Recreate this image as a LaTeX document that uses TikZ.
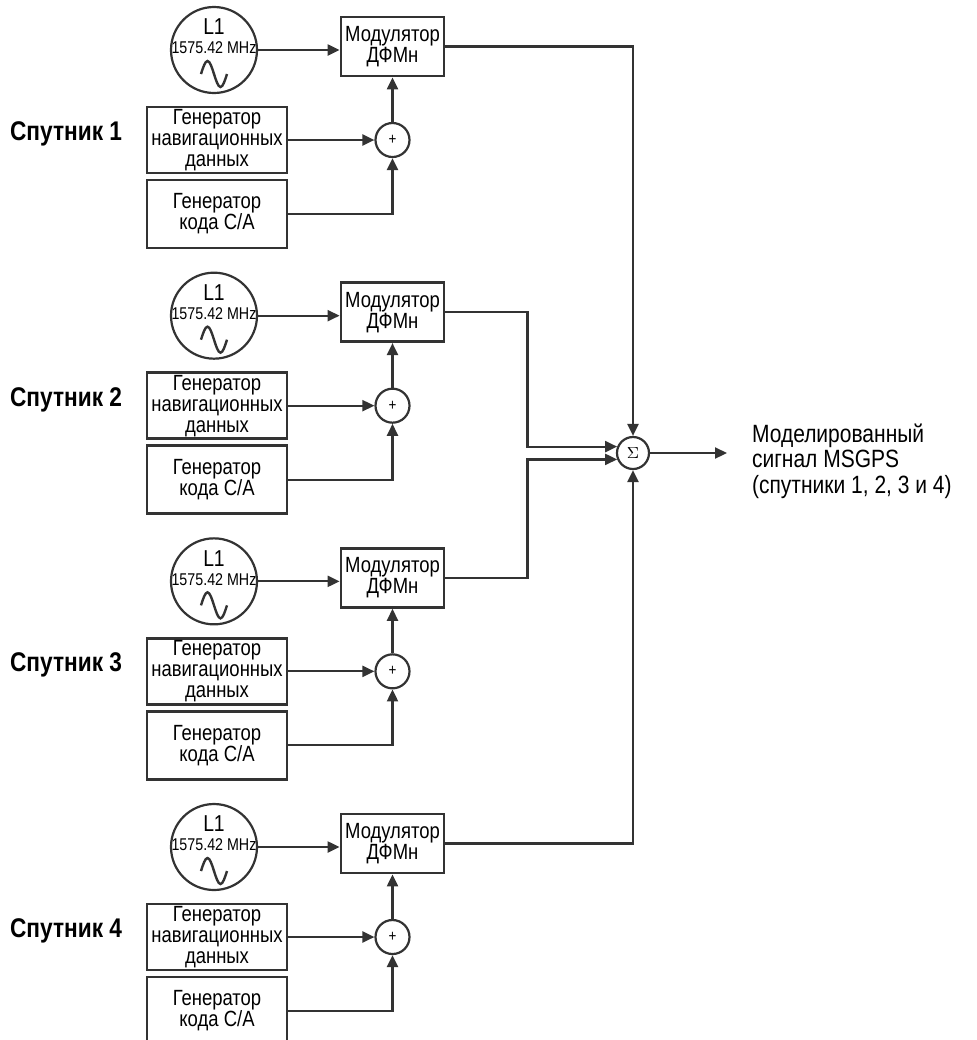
\documentclass[tikz,border=0pt]{standalone}
\usepackage{fontspec}
\setmainfont{Liberation Sans}[FakeStretch=0.84]
\usepackage{tikz}
\usetikzlibrary{arrows.meta,calc}
\usepackage{xcolor}
\definecolor{linegray}{gray}{0.2}

\tikzset{
  blk/.style={draw=linegray, line width=1.4pt, inner sep=0pt, align=center, font=\fontsize{11}{10.5}\selectfont},
  gen/.style={blk, minimum width=70pt},
  osc/.style={circle, draw=linegray, line width=1.1pt, minimum size=43pt, inner sep=0pt},
  summ/.style={circle, draw=linegray, line width=1.1pt, inner sep=0pt, font=\fontsize{8}{8}\selectfont},
  sig/.style={->, draw=linegray, line width=1.1pt},
}

\begin{document}
\begin{tikzpicture}[x=0.5pt, y=-0.5pt, >={Triangle[length=6pt,width=5.5pt]}]
  \clip (0,0) rectangle (977,1040);
  \foreach \i in {1,...,4} {
    \pgfmathsetmacro{\dy}{(\i-1)*265.67}
    % Генератор несущей L1
    \node[osc] (osc\i) at (214,50+\dy) {};
    \node[font=\fontsize{11.5}{11.5}\selectfont] (lone\i) at ($(osc\i)+(0,-23)$) {L1};
    \node[font=\fontsize{8.5}{8.5}\selectfont] (freq\i) at ($(osc\i)+(0,-2)$) {1575.42 MHz};
    \draw[linegray, line width=1.2pt] ($(osc\i)+(-13,24)$) sin ++(6.5,-13) cos ++(6.5,13) sin ++(6.5,13) cos ++(6.5,-13);
    % Модулятор
    \node[blk, minimum width=51.5pt, minimum height=29.5pt] (mod\i) at (392.5,46.5+\dy) {Модулятор\\ДФМн};
    % Генераторы данных и кода
    \node[gen, minimum height=33pt] (nav\i) at (217,140+\dy) {Генератор\\навигационных\\данных};
    \node[gen, minimum height=34pt] (ca\i) at (217,214+\dy) {Генератор\\кода С/А};
    \node[summ, minimum size=17pt] (plus\i) at (392.5,140+\dy) {+};
    \node[anchor=west, font=\bfseries\fontsize{13.5}{13.5}\selectfont] (sat\i) at (3,134+\dy) {Спутник \i};
    % Связи
    \draw[sig] (osc\i.east) -- (osc\i.east -| mod\i.west);
    \draw[sig] (nav\i) -- (plus\i);
    \draw[sig] (ca\i.east) -| (plus\i.south);
    \draw[sig] (plus\i) -- (mod\i);
  }
  % Сумматор
  \node[summ, minimum size=16pt] (sum) at (633,453) {$\Sigma$};
  \draw[sig] (mod1.east) -| (sum.north);
  \draw[sig] (mod2.east) -- ++(82,0) |- (sum.158);
  \draw[sig] (mod3.east) -- ++(82,0) |- (sum.202);
  \draw[sig] (mod4.east) -| (sum.south);
  % Выход
  \coordinate (outend) at (727,453);
  \draw[sig] (sum) -- (outend);
  \node[anchor=west, align=left, font=\fontsize{12.5}{12.75}\selectfont] (outtxt) at (745,461) {Моделированный\\сигнал MSGPS\\(спутники 1, 2, 3 и 4)};
\end{tikzpicture}
\end{document}
